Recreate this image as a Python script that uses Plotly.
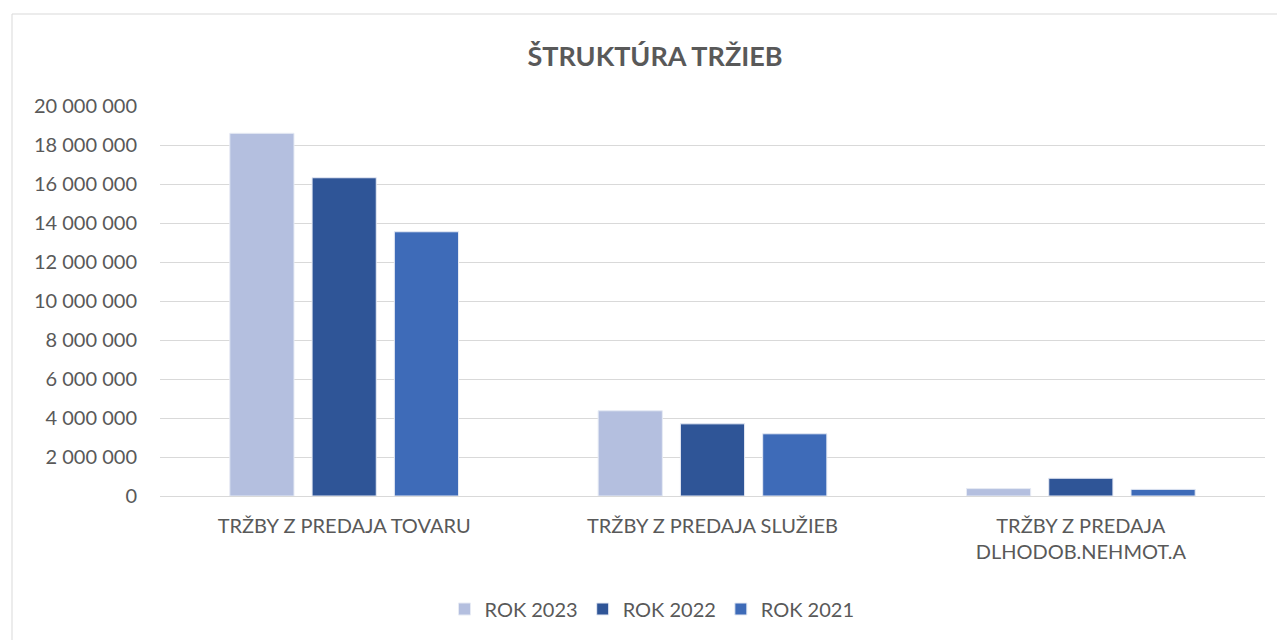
import plotly.graph_objects as go

categories = ["TRŽBY Z PREDAJA TOVARU", "TRŽBY Z PREDAJA SLUŽIEB", "TRŽBY Z PREDAJA<br>DLHODOB.NEHMOT.A"]
series_names = ["ROK 2023", "ROK 2022", "ROK 2021"]
rok_2023 = [18600000, 4370000, 380000]
rok_2022 = [16320000, 3700000, 910000]
rok_2021 = [13550000, 3190000, 340000]
colors = ["#B4BFDF", "#2F5597", "#3E6BB8"]
y_ticks = list(range(0, 20000001, 2000000))

fig = go.Figure()
for name, vals, col in zip(series_names, [rok_2023, rok_2022, rok_2021], colors):
    fig.add_trace(go.Bar(
        x=categories, y=vals, name=name,
        marker=dict(color=col, line=dict(color="#E6EAF4", width=1)),
    ))

font_family = "Lato, 'Open Sans', sans-serif"
L, R, T, B = 152, 28, 98, 152
plot_w = 1285 - L - R
plot_h = 640 - T - B
fig.update_layout(
    width=1285, height=640,
    paper_bgcolor="white", plot_bgcolor="white",
    separators=", ",
    barmode="group", bargap=0.33, bargroupgap=0.22,
    margin=dict(l=L, r=R, t=T, b=B),
    font=dict(family=font_family, color="#595959", size=20),
    title=dict(text="<b>ŠTRUKTÚRA TRŽIEB</b>", x=(655 - 8) / 1285, xanchor="center",
               y=1 - 49 / 640, yanchor="middle",
               font=dict(size=27, color="#595959", family=font_family)),
    xaxis=dict(showgrid=False, showline=False, ticks="",
               ticklabelstandoff=16,
               tickfont=dict(size=20, color="#595959")),
    yaxis=dict(range=[0, 20000000], tickvals=y_ticks, tickformat=",d",
               showgrid=True, gridcolor="#D9D9D9", gridwidth=1,
               zeroline=True, zerolinecolor="#D9D9D9", zerolinewidth=1,
               ticks="", ticklabelstandoff=22,
               tickfont=dict(size=20, color="#595959")),
    legend=dict(orientation="h", x=(652 - 8 - L) / plot_w, xanchor="center",
                y=-(601 - (640 - B)) / plot_h, yanchor="middle",
                font=dict(size=20, color="#595959"), itemwidth=30,
                traceorder="normal"),
    showlegend=True,
)
fig.add_shape(type="rect", xref="paper", yref="paper",
              x0=(4 - L) / plot_w, x1=1.1, y0=-0.5, y1=((640 - B) - 6) / plot_h,
              line=dict(color="#D9D9D9", width=1), layer="below")

fig.write_html("out.html")
